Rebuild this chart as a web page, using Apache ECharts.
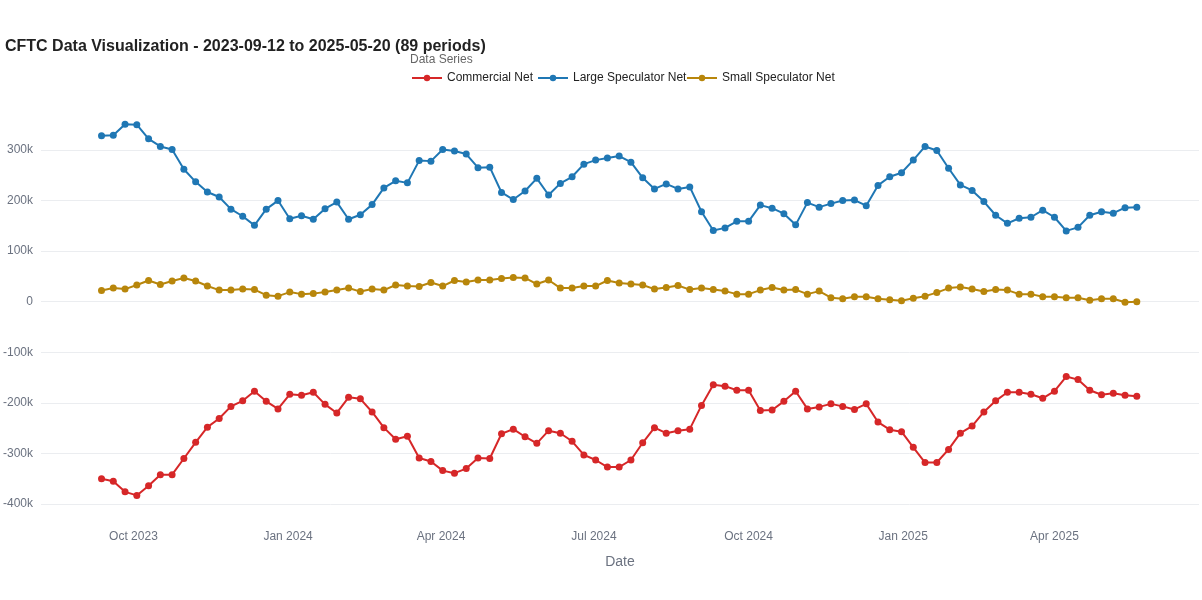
<!DOCTYPE html>
<html>
<head>
<meta charset="utf-8">
<script src="https://cdn.jsdelivr.net/npm/echarts@6/dist/echarts.min.js"></script>
<style>
html,body{margin:0;padding:0;background:#fff;}
#chart{width:1202px;height:600px;}
</style>
</head>
<body>
<div id="chart"></div>
<script>
var dates = [
'2023-09-12','2023-09-19','2023-09-26','2023-10-03','2023-10-10','2023-10-17','2023-10-24','2023-10-31',
'2023-11-07','2023-11-14','2023-11-21','2023-11-28','2023-12-05','2023-12-12','2023-12-19','2023-12-26',
'2024-01-02','2024-01-09','2024-01-16','2024-01-23','2024-01-30','2024-02-06','2024-02-13','2024-02-20',
'2024-02-27','2024-03-05','2024-03-12','2024-03-19','2024-03-26','2024-04-02','2024-04-09','2024-04-16',
'2024-04-23','2024-04-30','2024-05-07','2024-05-14','2024-05-21','2024-05-28','2024-06-04','2024-06-11',
'2024-06-18','2024-06-25','2024-07-02','2024-07-09','2024-07-16','2024-07-23','2024-07-30','2024-08-06',
'2024-08-13','2024-08-20','2024-08-27','2024-09-03','2024-09-10','2024-09-17','2024-09-24','2024-10-01',
'2024-10-08','2024-10-15','2024-10-22','2024-10-29','2024-11-05','2024-11-12','2024-11-19','2024-11-26',
'2024-12-03','2024-12-10','2024-12-17','2024-12-24','2024-12-31','2025-01-07','2025-01-14','2025-01-21',
'2025-01-28','2025-02-04','2025-02-11','2025-02-18','2025-02-25','2025-03-04','2025-03-11','2025-03-18',
'2025-03-25','2025-04-01','2025-04-08','2025-04-15','2025-04-22','2025-04-29','2025-05-06','2025-05-13',
'2025-05-20'
];

// values in thousands of contracts
var commercialNet = [
-350,-355,-376,-383,-364,-342,-342,-310,-278,-248,-231,-207,-196,-177,-197,-212,
-183,-185,-179,-203,-220,-189,-192,-218,-249,-272,-266,-309,-316,-334,-339,-330,
-309,-310,-261,-252,-267,-280,-255,-260,-276,-303,-313,-327,-327,-313,-279,-249,
-260,-255,-252,-205,-164,-167,-175,-175,-215,-214,-197,-177,-212,-208,-202,-207,
-213,-202,-238,-253,-257,-288,-318,-318,-292,-260,-246,-218,-196,-179,-179,-183,
-191,-177,-148,-154,-175,-184,-181,-185,-187
];
var largeSpecNet = [
328,329,351,350,322,307,301,262,237,217,207,183,169,151,183,200,
164,170,163,184,197,163,172,192,225,239,235,279,278,301,298,292,
265,266,216,202,219,244,211,234,247,272,280,284,288,276,245,223,
233,223,227,178,141,146,159,159,191,185,174,152,196,187,194,200,
201,190,230,247,255,280,307,299,264,231,220,198,171,155,165,167,
181,167,140,147,171,178,175,186,187
];
var smallSpecNet = [
22,27,25,33,42,34,41,47,41,31,23,23,25,24,13,11,
19,15,16,19,23,27,20,25,23,33,31,30,38,31,42,39,
43,43,46,48,47,35,43,27,27,31,31,42,37,35,33,25,
28,32,24,27,24,21,15,15,23,28,23,24,15,21,8,6,
10,10,6,4,2,7,11,18,27,29,25,20,24,23,15,15,
10,10,8,8,3,6,6,-1,0
];
var seriesNames = ['Commercial Net','Large Speculator Net','Small Speculator Net'];
var seriesColors = ['#d62728','#1f77b4','#b8860b'];
var yTicks = [-400,-300,-200,-100,0,100,200,300];
var monthNames = ['Jan','Feb','Mar','Apr','May','Jun','Jul','Aug','Sep','Oct','Nov','Dec'];

function pairs(vals){
  return vals.map(function(v,i){ return [dates[i], v]; });
}
var allVals = [commercialNet, largeSpecNet, smallSpecNet];
var legendLefts = [411, 537, 686];

var chart = echarts.init(document.getElementById('chart'), null, {renderer:'canvas'});
var FONT = '"Liberation Sans", Arial, sans-serif';
var option = {
  backgroundColor:'#ffffff',
  animation:false,
  textStyle:{fontFamily:FONT},
  title:[
    {text:'CFTC Data Visualization - 2023-09-12 to 2025-05-20 (89 periods)', left:0, top:34,
     textStyle:{fontSize:16, fontWeight:'bold', color:'#222', fontFamily:FONT}},
    {text:'Data Series', left:405, top:49,
     textStyle:{fontSize:12, fontWeight:'normal', color:'#666', fontFamily:FONT}}
  ],
  legend: seriesNames.map(function(n,i){
    return {
      data:[n], left:legendLefts[i], top:72, padding:0, itemWidth:30, itemHeight:8,
      textStyle:{fontSize:12, color:'#222', fontFamily:FONT}
    };
  }),
  grid:{left:40, right:0, top:150, bottom:96, containLabel:false},
  xAxis:{
    type:'time', min:'2023-08-07', max:'2025-06-26',
    minInterval:28*24*3600*1000, maxInterval:31*24*3600*1000,
    name:'Date', nameLocation:'middle', nameGap:51,
    nameTextStyle:{fontSize:14, color:'#6b7280', fontFamily:FONT},
    axisLine:{show:false}, axisTick:{show:false}, splitLine:{show:false},
    axisLabel:{
      margin:27, fontSize:12, color:'#6b7280', fontFamily:FONT, hideOverlap:false,
      showMinLabel:true, showMaxLabel:true,
      formatter:function(val){
        var d = new Date(val);
        if (d.getDate()===1 && d.getMonth()%3===0) return monthNames[d.getMonth()]+' '+d.getFullYear();
        return '';
      }
    }
  },
  yAxis:{
    type:'value', min:yTicks[0], max:yTicks[yTicks.length-1], interval:100,
    axisLine:{show:false}, axisTick:{show:false},
    splitLine:{lineStyle:{color:'#ebedf0', width:1}},
    axisLabel:{fontSize:12, color:'#6b7280', fontFamily:FONT, margin:8,
      formatter:function(v){ return v===0 ? '0' : v+'k'; }}
  },
  series: seriesNames.map(function(n,i){
    return {
      name:n, type:'line', data:pairs(allVals[i]), clip:false,
      symbol:'circle', symbolSize:7, showSymbol:true,
      lineStyle:{color:seriesColors[i], width:2},
      itemStyle:{color:seriesColors[i]}
    };
  })
};
chart.setOption(option);
</script>
</body>
</html>
